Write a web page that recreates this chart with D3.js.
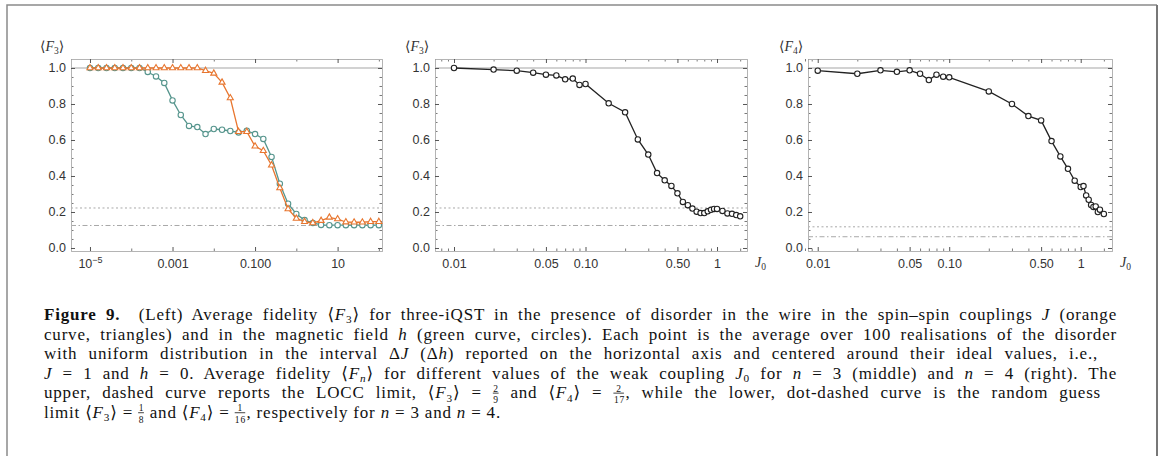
<!DOCTYPE html>
<html>
<head>
<meta charset="utf-8">
<title>Figure 9</title>
<script src="https://cdn.jsdelivr.net/npm/d3@7"></script>
<style>
  body { margin: 0; background: #fff; }
</style>
</head>
<body>
<script>
// ---- data ----
// left panel: disorder amplitude (log10 of ΔJ, Δh)
const disorderExp = [-5, -4.8, -4.6, -4.4, -4.2, -4, -3.8, -3.6, -3.4, -3.2, -3, -2.8, -2.6, -2.4, -2.2, -2, -1.8, -1.6,
                     -1.4, -1.2, -1, -0.8, -0.6, -0.4, -0.2, 0, 0.2, 0.4, 0.6, 0.8, 1, 1.2, 1.4, 1.6, 1.8, 2];
// disorder in J (orange, triangles)
const fidDisJ = [1, 1, 1, 1, 1, 1, 1, 1, 1, 1, 1, 1, 1, 1, 0.985, 0.97, 0.92, 0.833,
                 0.646, 0.646, 0.565, 0.54, 0.46, 0.333, 0.217, 0.164, 0.146, 0.139, 0.152, 0.17, 0.161, 0.144, 0.143, 0.143, 0.146, 0.146];
// disorder in h (green, circles)
const fidDisH = [1, 1, 1, 1, 1, 1, 1, 0.978, 0.953, 0.917, 0.82, 0.739, 0.678, 0.672, 0.633, 0.661, 0.657, 0.65,
                 0.642, 0.652, 0.633, 0.606, 0.506, 0.357, 0.246, 0.189, 0.155, 0.139, 0.128, 0.127, 0.127, 0.127, 0.127, 0.127, 0.127, 0.127];

// middle panel: n = 3
const j0Mid = [0.01, 0.02, 0.03, 0.04, 0.05, 0.06, 0.07, 0.08, 0.09, 0.1, 0.15, 0.2, 0.25, 0.3, 0.35, 0.4, 0.45,
               0.5, 0.55, 0.6, 0.65, 0.7, 0.75, 0.8, 0.85, 0.9, 0.95, 1.0, 1.1, 1.2, 1.3, 1.4, 1.5];
const fidMid = [1.0, 0.991, 0.985, 0.974, 0.963, 0.959, 0.937, 0.941, 0.906, 0.911, 0.804, 0.754, 0.603, 0.519, 0.416, 0.376, 0.345,
                0.304, 0.256, 0.238, 0.219, 0.202, 0.194, 0.194, 0.204, 0.212, 0.217, 0.217, 0.206, 0.192, 0.19, 0.183, 0.176];

// right panel: n = 4
const j0Right = [0.01, 0.02, 0.03, 0.04, 0.05, 0.06, 0.07, 0.08, 0.09, 0.1, 0.2, 0.3, 0.4, 0.5, 0.6, 0.7, 0.8, 0.9,
                 1.0, 1.05, 1.1, 1.15, 1.2, 1.25, 1.3, 1.35, 1.4, 1.5];
const fidRight = [0.985, 0.968, 0.987, 0.979, 0.987, 0.968, 0.933, 0.963, 0.952, 0.948, 0.87, 0.8, 0.733, 0.709, 0.594, 0.509, 0.44, 0.374,
                  0.339, 0.344, 0.292, 0.268, 0.239, 0.228, 0.231, 0.2, 0.213, 0.189];

// limits: LOCC (dashed) and random guess (dot-dashed)
const loccLimit = [2 / 9, 2 / 9, 2 / 17];
const randomLimit = [1 / 8, 1 / 8, 1 / 16];

// ticks
const leftTicks = [1e-5, 1e-3, 1e-1, 10];
const leftTickLabels = ["10^-5", "0.001", "0.100", "10"];
const leftMinor = [1e-4, 1e-2, 1, 100];
const j0Ticks = [0.01, 0.05, 0.1, 0.5, 1];
const j0TickLabels = ["0.01", "0.05", "0.10", "0.50", "1"];
const j0Minor = [0.008, 0.009, 0.02, 0.03, 0.04, 0.06, 0.07, 0.08, 0.09, 0.2, 0.3, 0.4, 0.6, 0.7, 0.8, 0.9, 1.5];
const yTicks = [0, 0.2, 0.4, 0.6, 0.8, 1.0];
const yTickLabels = ["0.0", "0.2", "0.4", "0.6", "0.8", "1.0"];
const yMinor = [0.05, 0.1, 0.15, 0.25, 0.3, 0.35, 0.45, 0.5, 0.55, 0.65, 0.7, 0.75, 0.85, 0.9, 0.95, 1.05];

const caption = [
  "**Figure 9.**\u00a0 (Left) Average fidelity ⟨*F*_3_⟩ for three-iQST in the presence of disorder in the wire in the spin–spin couplings *J* (orange",
  "curve, triangles) and in the magnetic field *h* (green curve, circles). Each point is the average over 100 realisations of the disorder",
  "with uniform distribution in the interval Δ*J* (Δ*h*) reported on the horizontal axis and centered around their ideal values, i.e.,",
  "*J* = 1 and *h* = 0. Average fidelity ⟨*F*~n~⟩ for different values of the weak coupling *J*_0_ for *n* = 3 (middle) and *n* = 4 (right). The",
  "upper, dashed curve reports the LOCC limit, ⟨*F*_3_⟩ = {2/9} and ⟨*F*_4_⟩ = {2/17}, while the lower, dot-dashed curve is the random guess",
  "limit ⟨*F*_3_⟩ = {1/8} and ⟨*F*_4_⟩ = {1/16}, respectively for *n* = 3 and *n* = 4."
];
const captionRight = [1117, 1117, 1098, 1117, 1101, null];

// ---- layout ----
const w = 1163, h = 456;
const plotTop = 59, plotBottom = 251;
const orange = "#e8762f", green = "#56958d";
const sans = "'Liberation Sans', Arial, sans-serif";
const serif = "'Liberation Serif', 'DejaVu Serif', serif";

const svg = d3.select("body").append("svg")
  .attr("width", w)
  .attr("height", h);

// figure box
svg.append("path").attr("d", "M7,456 V5 H1157").attr("fill", "none").attr("stroke", "#8a8a8a").attr("stroke-width", 1.5);
svg.append("line").attr("x1", 1157).attr("x2", 1157).attr("y1", 5).attr("y2", 456).attr("stroke", "#777").attr("stroke-width", 2);

const y = d3.scaleLinear().domain([-0.0167, 1.05]).range([plotBottom, plotTop]);

const panels = [
  { x0: 71, x1: 382, lo: -5.46, hi: 2.076, ticks: leftTicks, labels: leftTickLabels, minor: leftMinor, sub: "3", titleX: 40, j0: false,
    series: [
      { x: disorderExp.map(e => Math.pow(10, e)), y: fidDisH, color: green, marker: "circle" },
      { x: disorderExp.map(e => Math.pow(10, e)), y: fidDisJ, color: orange, marker: "triangle" }
    ] },
  { x0: 435, x1: 747, lo: -2.1445, hi: 0.228, ticks: j0Ticks, labels: j0TickLabels, minor: j0Minor, sub: "3", titleX: 405, j0: true,
    series: [{ x: j0Mid, y: fidMid, color: "#222", marker: "circle" }] },
  { x0: 808, x1: 1112, lo: -2.074, hi: 0.238, ticks: j0Ticks, labels: j0TickLabels, minor: j0Minor, sub: "4", titleX: 779, j0: true,
    series: [{ x: j0Right, y: fidRight, color: "#222", marker: "circle" }] }
];

function styleAxis(g, size) {
  g.select(".domain").attr("stroke", "#b4b4b4").attr("stroke-width", 1);
  g.selectAll(".tick line").attr("stroke", "#555").attr("stroke-width", size > 3 ? 1 : 0.8);
  g.selectAll(".tick text").attr("fill", "#333").attr("font-family", sans).attr("font-size", 12.5);
}

panels.forEach(function(p, pi) {
  const x = d3.scaleLog().domain([Math.pow(10, p.lo), Math.pow(10, p.hi)]).range([p.x0, p.x1]);
  const g = svg.append("g");

  // reference lines
  g.append("line").attr("x1", p.x0).attr("x2", p.x1).attr("y1", y(1)).attr("y2", y(1))
    .attr("stroke", "#d2d2d2").attr("stroke-width", 1.8);
  g.append("line").attr("x1", p.x0).attr("x2", p.x1).attr("y1", y(loccLimit[pi])).attr("y2", y(loccLimit[pi]))
    .attr("stroke", "#a8a8a8").attr("stroke-width", 1).attr("stroke-dasharray", "2,2.5");
  g.append("line").attr("x1", p.x0).attr("x2", p.x1).attr("y1", y(randomLimit[pi])).attr("y2", y(randomLimit[pi]))
    .attr("stroke", "#a8a8a8").attr("stroke-width", 1).attr("stroke-dasharray", "5,2.5,1.5,2.5");

  // frame axes: minor ticks first, then major
  const bMinor = g.append("g").attr("transform", "translate(0," + plotBottom + ")")
    .call(d3.axisBottom(x).tickValues(p.minor).tickSize(-2.5).tickSizeOuter(0).tickFormat(""));
  styleAxis(bMinor, 2.5);
  const tMinor = g.append("g").attr("transform", "translate(0," + plotTop + ")")
    .call(d3.axisTop(x).tickValues(p.minor).tickSize(-2.5).tickSizeOuter(0).tickFormat(""));
  styleAxis(tMinor, 2.5);
  const lMinor = g.append("g").attr("transform", "translate(" + p.x0 + ",0)")
    .call(d3.axisLeft(y).tickValues(yMinor).tickSize(-2.5).tickSizeOuter(0).tickFormat(""));
  styleAxis(lMinor, 2.5);
  const rMinor = g.append("g").attr("transform", "translate(" + p.x1 + ",0)")
    .call(d3.axisRight(y).tickValues(yMinor).tickSize(-2.5).tickSizeOuter(0).tickFormat(""));
  styleAxis(rMinor, 2.5);

  const xb = g.append("g").attr("transform", "translate(0," + plotBottom + ")")
    .call(d3.axisBottom(x).tickValues(p.ticks).tickSize(-4).tickSizeOuter(0).tickPadding(8)
      .tickFormat((d, i) => p.labels[i].indexOf("^") >= 0 ? "" : p.labels[i]));
  styleAxis(xb, 4);
  xb.selectAll(".tick text").each(function(d, i) {
    const lab = p.labels[i];
    if (lab.indexOf("^") < 0) return;
    const parts = lab.split("^");
    const t = d3.select(this);
    t.append("tspan").text(parts[0]);
    t.append("tspan").attr("font-size", 9).attr("dy", -5).text(parts[1].replace("-", "−"));
  });
  const xt = g.append("g").attr("transform", "translate(0," + plotTop + ")")
    .call(d3.axisTop(x).tickValues(p.ticks).tickSize(-4).tickSizeOuter(0).tickFormat(""));
  styleAxis(xt, 4);
  const yl = g.append("g").attr("transform", "translate(" + p.x0 + ",0)")
    .call(d3.axisLeft(y).tickValues(yTicks).tickSize(-4).tickSizeOuter(0).tickPadding(5)
      .tickFormat((d, i) => yTickLabels[i]));
  styleAxis(yl, 4);
  const yr = g.append("g").attr("transform", "translate(" + p.x1 + ",0)")
    .call(d3.axisRight(y).tickValues(yTicks).tickSize(-4).tickSizeOuter(0).tickFormat(""));
  styleAxis(yr, 4);

  // axis title <F_n>
  const tt = g.append("text").attr("x", p.titleX).attr("y", 51)
    .attr("font-family", serif).attr("font-size", 14).attr("fill", "#333");
  tt.append("tspan").text("⟨");
  tt.append("tspan").attr("font-style", "italic").text("F");
  tt.append("tspan").attr("font-size", 9.5).attr("dy", 3).text(p.sub);
  tt.append("tspan").attr("dy", -3).text("⟩");

  if (p.j0) {
    const jl = g.append("text").attr("x", p.x1 + 8).attr("y", 267)
      .attr("font-family", serif).attr("font-size", 14).attr("fill", "#333");
    jl.append("tspan").attr("font-style", "italic").text("J");
    jl.append("tspan").attr("font-size", 9.5).attr("dy", 3).text("0");
  }

  // curves
  p.series.forEach(function(s) {
    const pts = s.x.map((v, i) => [v, s.y[i]]);
    g.append("path").datum(pts)
      .attr("fill", "none").attr("stroke", s.color).attr("stroke-width", 1.3)
      .attr("d", d3.line().x(d => x(d[0])).y(d => y(d[1])));
    if (s.marker === "circle") {
      g.selectAll(null).data(pts).enter().append("circle")
        .attr("cx", d => x(d[0])).attr("cy", d => y(d[1])).attr("r", 2.7)
        .attr("fill", "#fff").attr("stroke", s.color).attr("stroke-width", 1.1);
    } else {
      g.selectAll(null).data(pts).enter().append("path")
        .attr("d", d3.symbol(d3.symbolTriangle).size(16))
        .attr("transform", d => "translate(" + x(d[0]) + "," + y(d[1]) + ")")
        .attr("fill", "#fff").attr("stroke", s.color).attr("stroke-width", 1.1);
    }
  });
});

// ---- caption ----
const capX = 44, capY = 320, capStep = 19.6, capFs = 17;
const tokenRe = /(\*\*.+?\*\*|\*.+?\*|_.+?_|~.+?~|\{\d+\/\d+\})/g;

function measure(str, fs) {
  const t = svg.append("text").attr("font-family", serif).attr("font-size", fs).text(str);
  const wd = t.node().getComputedTextLength();
  t.remove();
  return wd;
}

function drawCaption(fs) {
  const capG = svg.append("g").attr("class", "caption");
  const fracs = [];
  caption.forEach(function(line, li) {
    const by = capY + li * capStep;
    const t = capG.append("text").attr("x", capX).attr("y", by)
      .attr("font-family", serif).attr("font-size", fs).attr("fill", "#111")
      .style("letter-spacing", "0.8px");
    let base = 0, pendDx = 0, nChars = 0;
    function add(str, shift, attrs) {
      const ts = t.append("tspan").text(str);
      if (shift !== base) { ts.attr("dy", shift - base); base = shift; }
      if (pendDx) { ts.attr("dx", pendDx); pendDx = 0; }
      Object.keys(attrs || {}).forEach(k => ts.attr(k, attrs[k]));
      nChars += str.length;
      return ts;
    }
    line.split(tokenRe).filter(s => s.length).forEach(function(s) {
      if (s.startsWith("**")) add(s.slice(2, -2), 0, { "font-weight": "bold" });
      else if (s[0] === "*") add(s.slice(1, -1), 0, { "font-style": "italic" });
      else if (s[0] === "_") add(s.slice(1, -1), fs * 0.2, { "font-size": fs * 0.66 });
      else if (s[0] === "~") add(s.slice(1, -1), fs * 0.2, { "font-size": fs * 0.66, "font-style": "italic" });
      else if (s[0] === "{") {
        const nd = s.slice(1, -1).split("/");
        const small = fs * 0.56;
        const wn = measure(nd[0], small), wdn = measure(nd[1], small), wm = Math.max(wn, wdn) + 1;
        pendDx += (wm - wn) / 2;
        const idx = nChars;
        add(nd[0], -fs * 0.4, { "font-size": small });
        pendDx += -(wn + wdn) / 2 - 0.8;
        add(nd[1], fs * 0.28, { "font-size": small });
        pendDx += (wm - wdn) / 2;
        fracs.push({ t: t, idx: idx, wm: wm, wn: wn, by: by });
      } else add(s, 0, {});
    });
    // justify
    if (captionRight[li]) {
      const nat = t.node().getBBox().width;
      const spaces = (t.text().match(/[ \u00a0]/g) || []).length;
      const ws = Math.max(0, (captionRight[li] - capX - nat) / spaces);
      t.attr("word-spacing", ws);
    }
  });
  fracs.forEach(function(f) {
    const pos = f.t.node().getStartPositionOfChar(f.idx);
    const xs = pos.x - (f.wm - f.wn) / 2;
    capG.append("line").attr("x1", xs).attr("x2", xs + f.wm)
      .attr("y1", f.by - fs * 0.31).attr("y2", f.by - fs * 0.31)
      .attr("stroke", "#111").attr("stroke-width", 0.8);
  });
  return capG;
}

drawCaption(capFs);
</script>
</body>
</html>
